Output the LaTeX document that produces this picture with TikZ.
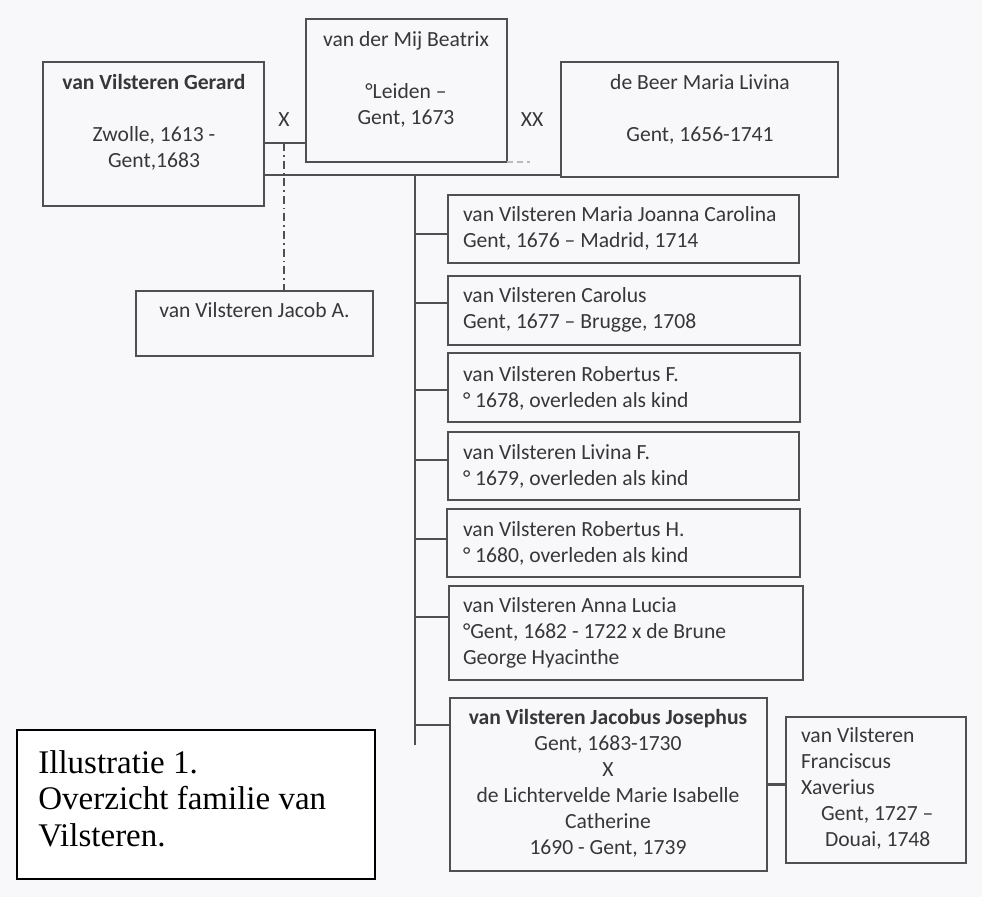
\documentclass[tikz,border=0pt]{standalone}
\usepackage{fontspec}
\setmainfont{Carlito}
\newfontfamily\capfont{Liberation Serif}
\definecolor{linec}{RGB}{80,80,80}
\definecolor{textc}{RGB}{55,55,55}
\definecolor{bgc}{RGB}{248,248,250}
\begin{document}
\begin{tikzpicture}[x=0.5pt,y=-0.5pt,
  box/.style={draw=linec, line width=1.1pt, inner sep=0pt, outer sep=0pt, anchor=north west},
  txt/.style={text=textc, font=\fontsize{10.8}{13}\selectfont, inner sep=0pt, outer sep=0pt, anchor=north},
  ltxt/.style={txt, anchor=north west, align=left},
  ln/.style={draw=linec, line width=1.1pt},
  dashdotline/.style={draw=linec, line width=0.8pt, dash pattern=on 4pt off 2pt on 0.8pt off 2pt}]
\fill[bgc] (0,0) rectangle (982,897);
\useasboundingbox (0,0) rectangle (982,897);

% parents
\node[box, minimum width=110.5pt, minimum height=72pt] (gerard) at (43,62) {};
\node[txt, align=center] (gerardT) at (154,71.8) {\strut\textbf{van Vilsteren Gerard}\\[13pt]Zwolle, 1613 -\\Gent,1683};

\node[box, minimum width=100.5pt, minimum height=71.5pt] (beatrix) at (306,19) {};
\node[txt, align=center] (beatrixT) at (406,28.8) {\strut van der Mij Beatrix\\[13pt]°Leiden –\\Gent, 1673};

\node[box, minimum width=138.5pt, minimum height=57.5pt] (debeer) at (561,62) {};
\node[txt, align=center] (debeerT) at (700,71.8) {\strut de Beer Maria Livina\\[13pt]Gent, 1656-1741};

\node[txt, anchor=base] (xmark) at (284,127) {X};
\node[txt, anchor=base] (xxmark) at (532,127) {XX};

% Jacob A.
\node[box, minimum width=118.5pt, minimum height=32.5pt] (jacob) at (136,291) {};
\node[txt] (jacobT) at (254.5,299.8) {\strut van Vilsteren Jacob A.};

% children
\node[box, minimum width=175.5pt, minimum height=34pt] (c1) at (448,195) {};
\node[ltxt] (c1T) at (463,203.8) {\strut van Vilsteren Maria Joanna Carolina\\Gent, 1676 – Madrid, 1714};

\node[box, minimum width=176pt, minimum height=34.5pt] (c2) at (448,276) {};
\node[ltxt] (c2T) at (463,284.8) {\strut van Vilsteren Carolus\\Gent, 1677 – Brugge, 1708};

\node[box, minimum width=176pt, minimum height=34.5pt] (c3) at (448,353) {};
\node[ltxt] (c3T) at (463,363.8) {\strut van Vilsteren Robertus F.\\° 1678, overleden als kind};

\node[box, minimum width=175.5pt, minimum height=34pt] (c4) at (448,432) {};
\node[ltxt] (c4T) at (463,441.8) {\strut van Vilsteren Livina F.\\° 1679, overleden als kind};

\node[box, minimum width=176.5pt, minimum height=34pt] (c5) at (447,509) {};
\node[ltxt] (c5T) at (463,518.8) {\strut van Vilsteren Robertus H.\\° 1680, overleden als kind};

\node[box, minimum width=177pt, minimum height=47pt] (c6) at (449,586) {};
\node[ltxt] (c6T) at (463,594.8) {\strut van Vilsteren Anna Lucia\\°Gent, 1682 - 1722 x de Brune\\George Hyacinthe};

\node[box, minimum width=158.5pt, minimum height=86.5pt] (c7) at (450,698) {};
\node[txt, align=center] (c7T) at (608,706.8) {\strut\textbf{van Vilsteren Jacobus Josephus}\\Gent, 1683-1730\\X\\de Lichtervelde Marie Isabelle\\Catherine\\1690 - Gent, 1739};

\node[box, minimum width=90pt, minimum height=73pt] (fran) at (786,717) {};
\node[ltxt] (franT) at (801,724.8) {\strut van Vilsteren\\Franciscus\\Xaverius\\\hspace*{10pt}Gent, 1727 –\\\hspace*{12pt}Douai, 1748};

% caption
\node[box, draw=black, fill=white, minimum width=179pt, minimum height=74.5pt] (cap) at (17,730) {};
\node[anchor=north west, align=left, inner sep=0pt, text=black, font=\capfont\fontsize{16.5}{18.25}\selectfont] (capT) at (38,747.45) {\strut Illustratie 1.\\Overzicht familie van\\Vilsteren.};

% connectors
\draw[ln] ([yshift=-4.5pt]gerard.east) coordinate (m1) -- (m1 -| beatrix.west);
\draw[ln] ([yshift=-20.5pt]gerard.east) coordinate (m2) -- (m2 -| debeer.west);
\draw[dashdotline] (xmark |- m1) -- (xmark |- jacob.north);
\draw[gray!55, line width=0.8pt, dash pattern=on 3pt off 2pt] (beatrix.south east) -- ++(23,0) coordinate (bdash);

\coordinate (tr) at (415,175);
\coordinate (trend) at (415,745);
\draw[ln] (tr) -- (trend);

\draw[ln] ([yshift=-2.5pt]c1.west) -- ([yshift=-2.5pt]c1.west -| tr);
\draw[ln] ([yshift=3.75pt]c2.west) -- ([yshift=3.75pt]c2.west -| tr);
\draw[ln] ([yshift=-1.25pt]c3.west) -- ([yshift=-1.25pt]c3.west -| tr);
\draw[ln] ([yshift=3pt]c4.west) -- ([yshift=3pt]c4.west -| tr);
\draw[ln] ([yshift=2pt]c5.west) -- ([yshift=2pt]c5.west -| tr);
\draw[ln] ([yshift=8pt]c6.west) -- ([yshift=8pt]c6.west -| tr);
\draw[ln] ([yshift=29.75pt]c7.west) -- ([yshift=29.75pt]c7.west -| tr);
\draw[ln] (c7.east) -- (c7.east -| fran.west);
\end{tikzpicture}
\end{document}
